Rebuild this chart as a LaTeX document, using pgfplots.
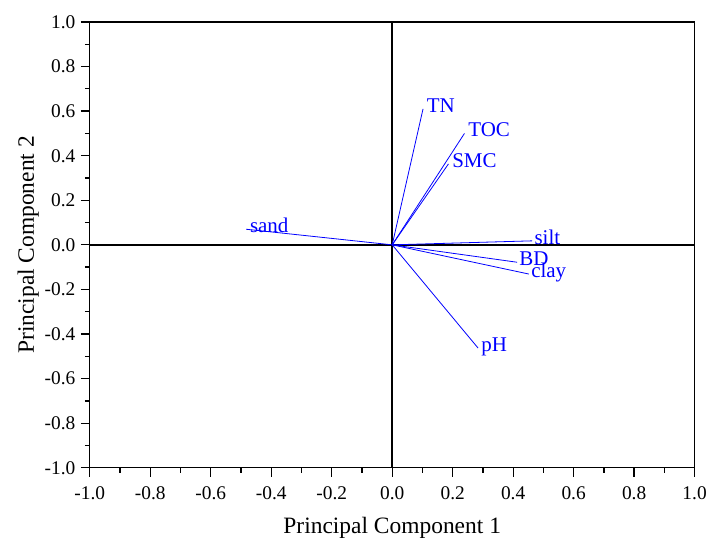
\documentclass[border=0pt]{standalone}
\usepackage{fontspec}
\setmainfont{Liberation Serif}
\usepackage{pgfplots}
\pgfplotsset{compat=1.18}

\begin{document}
\begin{tikzpicture}
	\begin{axis}[
	scale only axis,
	width=606pt, height=446.7pt,
	xmin=-1, xmax=1,
	ymin=-1, ymax=1,
	xtick={-1,-0.8,...,1.01},
	ytick={-1,-0.8,...,1.01},
	minor tick num=1,
	xtick pos=bottom, ytick pos=left,
	tick align=outside,
	major tick length=9pt, minor tick length=5pt,
	axis line style={line width=1.2pt},
	tick style={black, line width=1.3pt},
	/pgf/number format/assume math mode=true,
	/pgf/number format/.cd, fixed, fixed zerofill, precision=1, /pgfplots/.cd,
	ticklabel style={font=\fontsize{19.4}{20}\selectfont},
	xticklabel style={anchor=base, yshift=-23pt},
	yticklabel style={anchor=base east, yshift=-6.4pt, xshift=-2pt},
	clip=false,
	]
	
	% axes through the origin
	\draw[black, line width=1.6pt] (axis cs:-1,0) -- (axis cs:1,0);
	\draw[black, line width=1.6pt] (axis cs:0,-1) -- (axis cs:0,1);
	
	% loading vectors
	\addplot[blue, line width=0.8pt] coordinates {(0,0) (0.102,0.610)}
		node[pos=1, anchor=base west, inner sep=0pt, xshift=3.5pt, yshift=-3.5pt, font=\fontsize{21}{22}\selectfont] {TN};
	\addplot[blue, line width=0.8pt] coordinates {(0,0) (0.239,0.500)}
		node[pos=1, anchor=base west, inner sep=0pt, xshift=3.5pt, yshift=-3.5pt, font=\fontsize{21}{22}\selectfont] {TOC};
	\addplot[blue, line width=0.8pt] coordinates {(0,0) (0.186,0.363)}
		node[pos=1, anchor=base west, inner sep=0pt, xshift=3.5pt, yshift=-3.5pt, font=\fontsize{21}{22}\selectfont] {SMC};
	\addplot[blue, line width=0.8pt] coordinates {(0,0) (-0.483,0.070)}
		node[pos=1, anchor=base west, inner sep=0pt, xshift=3.5pt, yshift=-3.5pt, font=\fontsize{21}{22}\selectfont] {sand};
	\addplot[blue, line width=0.8pt] coordinates {(0,0) (0.463,0.018)}
		node[pos=1, anchor=base west, inner sep=0pt, xshift=2pt, yshift=-3.5pt, font=\fontsize{21}{22}\selectfont] {silt};
	\addplot[blue, line width=0.8pt] coordinates {(0,0) (0.413,-0.078)}
		node[pos=1, anchor=base west, inner sep=0pt, xshift=2pt, yshift=-3.5pt, font=\fontsize{21}{22}\selectfont] {BD};
	\addplot[blue, line width=0.8pt] coordinates {(0,0) (0.452,-0.131)}
		node[pos=1, anchor=base west, inner sep=0pt, xshift=2pt, yshift=-3.5pt, font=\fontsize{21}{22}\selectfont] {clay};
	\addplot[blue, line width=0.8pt] coordinates {(0,0) (0.284,-0.463)}
		node[pos=1, anchor=base west, inner sep=0pt, xshift=3pt, yshift=-3.5pt, font=\fontsize{21}{22}\selectfont] {pH};
	
	\coordinate (sw) at (rel axis cs:0,0);
	\coordinate (lm) at (rel axis cs:0,0.5);
	\coordinate (bm) at (rel axis cs:0.5,0);
	\end{axis}
	
	\node[rotate=90, anchor=base, inner sep=0pt, font=\fontsize{23.5}{24}\selectfont] at ([xshift=-56pt]lm) {Principal Component 2};
	\node[anchor=base, inner sep=0pt, font=\fontsize{23.5}{24}\selectfont] at ([yshift=-66.3pt]bm) {Principal Component 1};
	\path (sw) ++(-90pt,-71.3pt) rectangle ++(710pt,540pt);
\end{tikzpicture}
\end{document}
